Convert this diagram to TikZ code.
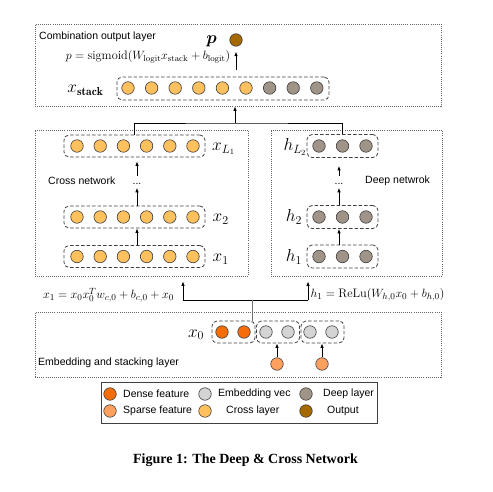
\documentclass[tikz,border=0pt]{standalone}
\usepackage{fontspec}
\usepackage{amsmath}
\usepackage{bm}
\newfontfamily\lsans{Liberation Sans}
\newfontfamily\capfont{Liberation Serif}
\usetikzlibrary{arrows.meta}
\definecolor{cdense}{RGB}{245,108,10}
\definecolor{csparse}{RGB}{255,160,95}
\definecolor{cembed}{RGB}{212,212,212}
\definecolor{ccross}{RGB}{255,193,94}
\definecolor{cdeep}{RGB}{160,148,136}
\definecolor{coutput}{RGB}{166,105,0}
\definecolor{ncline}{RGB}{60,60,60}
\begin{document}
\begin{tikzpicture}[x=1pt,y=-1pt,
  neuron/.style={circle,draw=ncline,line width=0.6pt,minimum size=12.5pt,inner sep=0pt},
  outerbox/.style={rectangle,draw=black!60,line width=0.8pt,dash pattern=on 0.8pt off 1.3pt,inner sep=0pt},
  vecbox/.style={rectangle,draw=black!75,line width=0.8pt,dash pattern=on 3.5pt off 2pt,rounded corners=5pt,inner sep=0pt},
  lbl/.style={font=\lsans\fontsize{10.5}{12}\selectfont,inner sep=0pt},
  mlbl/.style={font=\fontsize{16.5}{18}\selectfont,inner sep=0pt},
  fml/.style={font=\fontsize{12.3}{14}\selectfont,inner sep=0pt},
  arr/.style={-{Latex[length=4.5pt,width=3.5pt]},line width=0.8pt},
  conn/.style={line width=0.8pt},
]
\useasboundingbox (0,0) rectangle (493,492);

% ---------------- top: combination output layer
\node[outerbox,minimum width=406pt,minimum height=82pt] (topbox) at (238,65) {};
\node[lbl,anchor=west] (toplbl) at (39,37) {Combination output layer};
\node[neuron,fill=coutput] (out) at (236,40) {};
\node[mlbl,anchor=base] (plbl) at (211.5,44) {$\bm{p}$};
\node[fml] (pf) at (148,57) {$p=\mathrm{sigmoid}(W_{\mathrm{logit}}x_{\mathrm{stack}}+b_{\mathrm{logit}})$};
\node[vecbox,minimum width=212pt,minimum height=23pt] (stack) at (223,88.5) {};
\foreach \i/\c in {1/ccross,2/ccross,3/ccross,4/ccross,5/ccross,6/ccross,7/cdeep,8/cdeep,9/cdeep}
  \node[neuron,fill=\c] (s\i) at ({128+23.6*(\i-1)},88) {};
\node[mlbl,anchor=base] (xs) at (85.5,92.5) {$x_{\mathbf{stack}}$};
\draw[arr,shorten <=7pt,shorten >=5pt] (stack.north -| out) -- (out.south);

% ---------------- middle: cross network
\node[outerbox,minimum width=213pt,minimum height=146pt] (crossbox) at (141.5,203) {};
\node[outerbox,minimum width=171pt,minimum height=146pt] (deepbox) at (356.5,203) {};

\foreach \n/\y in {cL1/146,c2/217,c1/256.5} {
  \node[vecbox,minimum width=141pt,minimum height=22pt] (\n) at (134.5,\y) {};
  \foreach \k in {0,...,5}
    \node[neuron,fill=ccross] (\n-\k) at ({77+23.2*\k},\y) {};
}
\node[mlbl,anchor=base west] (lxL1) at (212,150.5) {$x_{L_1}$};
\node[mlbl,anchor=base west] (lx2) at (212.5,222) {$x_2$};
\node[mlbl,anchor=base west] (lx1) at (212.5,261.5) {$x_1$};
\node[lbl,anchor=west] (crosslbl) at (48,181) {Cross network};
\node[lbl] (cdots) at (137,184) {...};
\draw[arr] (c1.north -| cdots) -- (c2.south -| cdots);
\draw[arr,shorten >=3pt] (c2.north -| cdots) -- (cdots.south);
\draw[arr,shorten <=7pt,shorten >=4pt] (cdots.north) -- (cL1.south -| cdots);

% ---------------- middle: deep network
\foreach \n/\y in {dL2/146,d2/217,d1/256.5} {
  \node[vecbox,minimum width=71pt,minimum height=23pt] (\n) at (342.5,\y) {};
  \foreach \k in {0,1,2}
    \node[neuron,fill=cdeep] (\n-\k) at ({319+23.5*\k},\y) {};
}
\node[mlbl,anchor=base] (lhL2) at (295,151) {$h_{L_2}$};
\node[mlbl,anchor=base] (lh2) at (294,222) {$h_2$};
\node[mlbl,anchor=base] (lh1) at (294,261.5) {$h_1$};
\node[lbl,anchor=west] (deeplbl) at (365,181) {Deep netwrok};
\node[lbl] (ddots) at (339,184) {...};
\draw[arr] (d1.north -| ddots) -- (d2.south -| ddots);
\draw[arr,shorten >=3pt] (d2.north -| ddots) -- (ddots.south);
\draw[arr,shorten <=7pt,shorten >=8pt] (ddots.north) -- (dL2.south -| ddots);

% ---------------- connectors into top layer
\coordinate (J1) at (235,123);
\draw[conn] (cL1.north) |- (J1) -| (dL2.north);
\draw[arr] (J1) -- (topbox.south -| J1);

% ---------------- bottom: embedding and stacking layer
\node[outerbox,minimum width=406pt,minimum height=65pt] (embbox) at (238,344.5) {};
\node[lbl,anchor=west] (emblbl) at (38,363) {Embedding and stacking layer};
\node[mlbl,anchor=base] (lx0) at (196,337) {$x_0$};
\node[vecbox,minimum width=43pt,minimum height=22pt] (e1) at (233.5,332) {};
\node[vecbox,minimum width=43pt,minimum height=22pt] (e2) at (278,332) {};
\node[vecbox,minimum width=43pt,minimum height=22pt] (e3) at (322.5,332) {};
\node[neuron,fill=cdense] (n1) at (222,332) {};
\node[neuron,fill=cdense] (n2) at (244,332) {};
\node[neuron,fill=cembed] (n3) at (266,332) {};
\node[neuron,fill=cembed] (n4) at (288,332) {};
\node[neuron,fill=cembed] (n5) at (310,332) {};
\node[neuron,fill=cembed] (n6) at (332,332) {};
\node[neuron,fill=csparse] (sp1) at (277,364) {};
\node[neuron,fill=csparse] (sp2) at (322,364) {};
\draw[arr] (sp1.north) -- (e2.south -| sp1);
\draw[arr] (sp2.north) -- (e3.south -| sp2);

% ---------------- x0 to cross / deep
\coordinate (J2) at (252,300);
\coordinate (aL) at (183,300);
\coordinate (aR) at (308,300);
\draw[conn] (aL) -- (aR);
\draw[arr,shorten >=5pt] (aL) -- (crossbox.south -| aL);
\draw[arr,shorten >=5pt] (aR) -- (deepbox.south -| aR);
\draw[conn,draw=black!55] (J2) -- (e1.north -| J2);
\node[fml] (f1) at (108.5,295) {$x_1=x_0x_0^Tw_{c,0}+b_{c,0}+x_0$};
\node[fml,anchor=west] (f2) at (310.5,295) {$h_1=\mathrm{ReLu}(W_{h,0}x_0+b_{h,0})$};

% ---------------- legend
\node[rectangle,draw=black!75,line width=0.8pt,minimum width=276pt,minimum height=41pt,inner sep=0pt] (legend) at (239,402.5) {};
\node[neuron,fill=cdense] (lg1) at (110,394) {};
\node[lbl,anchor=west] (lt1) at (123,394) {Dense feature};
\node[neuron,fill=csparse] (lg2) at (110,411) {};
\node[lbl,anchor=west] (lt2) at (123,411) {Sparse feature};
\node[neuron,fill=cembed] (lg3) at (205,394) {};
\node[lbl,anchor=west] (lt3) at (218,394) {Embedding vec};
\node[neuron,fill=ccross] (lg4) at (205,411) {};
\node[lbl,anchor=west] (lt4) at (226,411) {Cross layer};
\node[neuron,fill=cdeep] (lg5) at (306,394) {};
\node[lbl,anchor=west] (lt5) at (323,394) {Deep layer};
\node[neuron,fill=coutput] (lg6) at (306,411) {};
\node[lbl,anchor=west] (lt6) at (327,411) {Output};

% ---------------- caption
\node[font=\capfont\bfseries\fontsize{14}{16}\selectfont,inner sep=0pt] (cap) at (245.5,460) {Figure 1: The Deep \& Cross Network};
\end{tikzpicture}
\end{document}
